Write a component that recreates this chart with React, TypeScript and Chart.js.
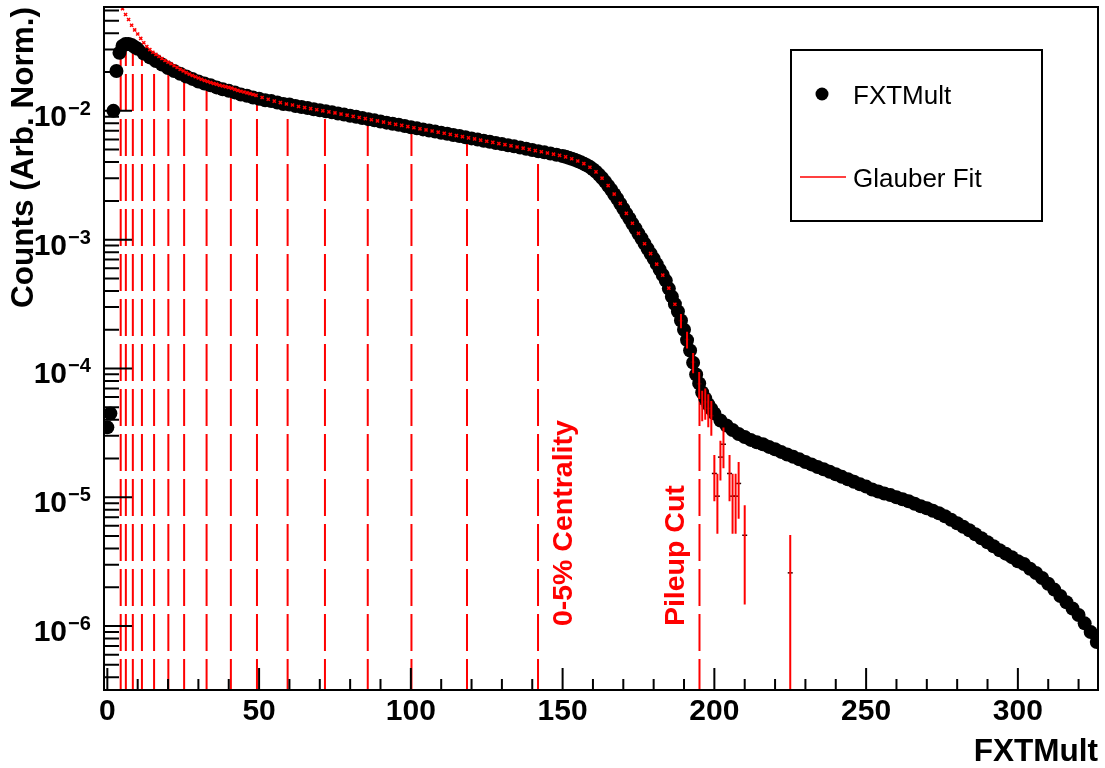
import React, { useEffect, useRef } from "react";
import { Chart, registerables } from "chart.js";

Chart.register(...registerables);

const FONT = '"Liberation Sans", Arial, Helvetica, sans-serif';
const RED = "#ff0000";

// FXTMult histogram (black points)
const multX = [0,1,2,3,4,5,6,7,8,9,10,12,14,16,18,20,22,24,26,28,30,32,34,36,38,40,42,44,46,48,50,52,54,56,58,60,62,64,66,68,70,72,74,76,78,80,82,84,86,88,90,92,94,96,98,100,102,104,106,108,110,112,114,116,118,120,122,124,126,128,130,132,134,136,138,140,142,144,146,148,
  150,151,152,153,154,155,156,157,158,159,160,161,162,163,164,165,166,167,168,169,170,171,172,173,174,175,176,177,178,179,180,181,182,183,184,185,186,187,188,189,190,191,192,193,194,195,196,197,198,199,200,
  202,204,206,208,210,212,214,216,218,220,222,224,226,228,230,232,234,236,238,240,242,244,246,248,250,252,254,256,258,260,262,264,266,268,270,272,274,276,278,280,282,284,286,288,290,292,294,296,298,300,302,304,306,308,310,312,314,316,318,320,322,324,326];
const multY = [3.49e-5,4.48e-5,1.00e-2,2.04e-2,2.82e-2,3.19e-2,3.30e-2,3.30e-2,3.25e-2,3.13e-2,3.03e-2,
  2.79e-2,2.60e-2,2.44e-2,2.29e-2,2.15e-2,2.04e-2,1.94e-2,1.85e-2,1.77e-2,1.69e-2,
  1.63e-2,1.58e-2,1.52e-2,1.47e-2,1.43e-2,1.39e-2,1.34e-2,1.31e-2,1.27e-2,1.24e-2,
  1.21e-2,1.19e-2,1.16e-2,1.13e-2,1.12e-2,1.09e-2,1.07e-2,1.05e-2,1.03e-2,1.01e-2,
  9.91e-3,9.74e-3,9.53e-3,9.35e-3,9.15e-3,8.98e-3,8.79e-3,8.62e-3,8.44e-3,8.26e-3,
  8.10e-3,7.93e-3,7.79e-3,7.63e-3,7.46e-3,7.31e-3,7.18e-3,7.03e-3,6.90e-3,6.75e-3,
  6.64e-3,6.49e-3,6.37e-3,6.24e-3,6.11e-3,5.98e-3,5.86e-3,5.75e-3,5.62e-3,5.52e-3,
  5.41e-3,5.30e-3,5.19e-3,5.08e-3,4.97e-3,4.86e-3,4.76e-3,4.66e-3,4.56e-3,
  4.46e-3,4.40e-3,4.32e-3,4.25e-3,4.17e-3,4.08e-3,3.99e-3,3.88e-3,3.78e-3,3.66e-3,
  3.52e-3,3.37e-3,3.19e-3,3.01e-3,2.82e-3,2.62e-3,2.44e-3,2.25e-3,2.08e-3,1.90e-3,
  1.74e-3,1.59e-3,1.46e-3,1.33e-3,1.22e-3,1.11e-3,1.02e-3,9.31e-4,8.51e-4,7.78e-4,
  7.13e-4,6.46e-4,5.85e-4,5.31e-4,4.81e-4,4.17e-4,3.61e-4,3.16e-4,2.77e-4,2.36e-4,
  2.00e-4,1.66e-4,1.38e-4,1.11e-4,8.98e-5,7.66e-5,6.52e-5,5.85e-5,5.26e-5,4.85e-5,4.48e-5,
  3.95e-5,3.61e-5,3.33e-5,3.10e-5,2.94e-5,
  2.79e-5,2.67e-5,2.58e-5,2.46e-5,2.36e-5,2.25e-5,2.15e-5,2.06e-5,1.97e-5,1.88e-5,
  1.80e-5,1.72e-5,1.65e-5,1.58e-5,1.51e-5,1.44e-5,1.38e-5,1.32e-5,1.26e-5,1.21e-5,
  1.15e-5,1.11e-5,1.07e-5,1.04e-5,1.00e-5,9.64e-6,9.31e-6,8.91e-6,8.51e-6,8.22e-6,
  7.85e-6,7.52e-6,7.13e-6,6.70e-6,6.28e-6,5.90e-6,5.55e-6,5.16e-6,4.81e-6,4.48e-6,
  4.17e-6,3.88e-6,3.65e-6,3.43e-6,3.19e-6,3.03e-6,2.79e-6,2.58e-6,2.36e-6,2.13e-6,
  1.92e-6,1.71e-6,1.53e-6,1.37e-6,1.22e-6,1.05e-6,8.98e-7,7.52e-7];

// Glauber fit (red)
const fitX = [5,6,7,8,9,10,11,12,13,14,15,16,17,18,19,20,21,22,23,24,25,26,27,28,29,30,31,32,33,34,35,36,37,38,39,40,41,42,43,44,45,46,47,48,49,
  51,53,55,57,59,61,63,65,67,69,71,73,75,77,79,81,83,85,87,89,91,93,95,97,99,101,103,105,107,109,111,113,115,117,119,121,123,125,127,129,131,133,135,137,139,141,143,145,147,149,151,153,155,157,159,161,163,165,167,169,171,173,175,177,179,181,183,185,187];
const fitY = [0.0620,0.0560,0.0512,0.0462,0.0425,0.0395,0.0365,0.0338,0.0316,0.0299,0.0285,0.0274,0.0264,0.0255,0.0246,0.0239,0.0232,0.0224,0.0217,0.0210,
  0.0204,0.0198,0.0193,0.0188,0.0184,0.0180,0.0176,0.0172,0.0169,0.0166,0.0163,0.0161,0.0158,0.0156,0.0154,0.0152,0.0150,0.0147,0.0144,0.0142,0.0140,0.0138,0.0136,0.0134,0.0132,
  0.0127,0.0123,0.0119,0.0116,0.0113,0.0111,0.0108,0.0106,0.0104,0.0102,0.0100,0.00982,0.00963,0.00944,0.00925,0.00906,0.00888,0.00870,0.00853,0.00835,
  0.00818,0.00801,0.00786,0.00771,0.00755,0.00739,0.00725,0.00711,0.00697,0.00683,0.00670,0.00656,0.00643,0.00630,0.00617,0.00605,0.00592,0.00581,0.00569,0.00557,
  0.00546,0.00535,0.00524,0.00513,0.00502,0.00491,0.00481,0.00471,0.00461,0.00451,0.00439,0.00425,0.00408,0.00389,0.00365,0.00336,0.00300,0.00263,0.00226,0.00191,
  0.00160,0.00134,0.00112,0.000930,0.000780,0.000645,0.000530,0.000420,0.000315];
const fitTailX = [189,191,193,195,196,197,198,199,200,201,202,203,205,206,207,208,210,225];
const fitTailY = [2.35e-4,1.68e-4,1.12e-4,7.6e-5,5.3e-5,5.5e-5,4.9e-5,4.3e-5,1.53e-5,1.02e-5,2.05e-5,2.58e-5,1.53e-5,1.02e-5,1.02e-5,1.28e-5,5.07e-6,2.59e-6];
const fitTailErr = [3.0e-5,2.5e-5,2.0e-5,1.8e-5,1.4e-5,1.5e-5,1.4e-5,1.3e-5,6e-6,5e-6,7e-6,9e-6,6e-6,5e-6,5e-6,6e-6,3.6e-6,2.5e-6];

// centrality cut lines
const cutX = [4.4,6.1,8.4,11.4,15.4,20.1,25.3,32.7,40.7,49.3,59.4,71.7,85.8,100.2,118.5,141.9,195.1];
const cutTop = [0.029,0.033,0.032,0.028,0.0245,0.0214,0.0188,0.0162,0.0142,0.0125,0.0112,0.0099,0.0086,0.0075,0.0062,0.0049,7.0e-5];
const cutLabels = ["0-5% Centrality", "Pileup Cut"];
const cutLabelX = [153, 190];
const cutLabelY = [1e-6, 1e-6];

const xTicks = [0, 50, 100, 150, 200, 250, 300];
const yDecades = [-6, -5, -4, -3, -2];
const legendLabels = ["FXTMult", "Glauber Fit"];

const X_MIN = -1.1, X_MAX = 326.4, Y_MIN = 3.19e-7, Y_MAX = 0.064;

const rootPlugin = {
  id: "rootStyle",
  afterDraw(chart: any) {
    const { ctx, chartArea: a } = chart;
    const xs = chart.scales.x, ys = chart.scales.y;
    ctx.save();
    ctx.strokeStyle = "#000";
    ctx.lineWidth = 2;
    ctx.beginPath();
    for (let v = 0; v <= X_MAX; v += 10) {
      const px = xs.getPixelForValue(v);
      const len = v % 50 === 0 ? 22 : 11;
      ctx.moveTo(px, a.bottom);
      ctx.lineTo(px, a.bottom - len);
    }
    for (let d = -7; d <= -1; d++) {
      for (let m = 1; m <= 9; m++) {
        const v = m * Math.pow(10, d);
        if (v < Y_MIN || v > Y_MAX) continue;
        const py = ys.getPixelForValue(v);
        const len = m === 1 ? 28 : 15;
        ctx.moveTo(a.left, py);
        ctx.lineTo(a.left + len, py);
      }
    }
    ctx.stroke();
    ctx.strokeRect(a.left, a.top, a.right - a.left, a.bottom - a.top);

    // y tick labels 10^n
    ctx.fillStyle = "#000";
    ctx.textBaseline = "alphabetic";
    yDecades.forEach((d) => {
      const py = ys.getPixelForValue(Math.pow(10, d));
      ctx.font = `bold 30px ${FONT}`;
      ctx.textAlign = "right";
      ctx.fillText("10", a.left - 37, py + 15);
      ctx.font = `bold 20px ${FONT}`;
      ctx.textAlign = "left";
      ctx.fillText("\u2212" + Math.abs(d), a.left - 36, py + 4);
    });

    // rotated cut labels
    ctx.fillStyle = RED;
    ctx.font = `bold 28.5px ${FONT}`;
    cutLabels.forEach((t, i) => {
      const px = xs.getPixelForValue(cutLabelX[i]);
      const py = ys.getPixelForValue(cutLabelY[i]);
      ctx.save();
      ctx.translate(px, py);
      ctx.rotate(-Math.PI / 2);
      ctx.textAlign = "left";
      ctx.textBaseline = "alphabetic";
      ctx.fillText(t, 0, 0);
      ctx.restore();
    });

    // legend
    const L = { left: 791, top: 50, right: 1042, bottom: 221 };
    ctx.fillStyle = "#fff";
    ctx.fillRect(L.left, L.top, L.right - L.left, L.bottom - L.top);
    ctx.strokeStyle = "#000";
    ctx.lineWidth = 2;
    ctx.strokeRect(L.left, L.top, L.right - L.left, L.bottom - L.top);
    ctx.fillStyle = "#000";
    ctx.beginPath();
    ctx.arc(822, 94, 6.5, 0, Math.PI * 2);
    ctx.fill();
    ctx.strokeStyle = RED;
    ctx.lineWidth = 1.5;
    ctx.beginPath();
    ctx.moveTo(800, 177);
    ctx.lineTo(846, 177);
    ctx.stroke();
    ctx.fillStyle = "#000";
    ctx.font = `26px ${FONT}`;
    ctx.textAlign = "left";
    ctx.textBaseline = "alphabetic";
    ctx.fillText(legendLabels[0], 853, 103.5);
    ctx.fillText(legendLabels[1], 853, 186.5);
    ctx.restore();
  },
};

export default function App() {
  const ref = useRef<HTMLCanvasElement>(null);
  useEffect(() => {
    const canvas = ref.current;
    if (!canvas) return;
    const multData = multX.map((x, i) => ({ x, y: multY[i] }));
    const fitData = fitX.map((x, i) => ({ x, y: fitY[i] }));
    const tailData = fitTailX.map((x, i) => ({ x, y: fitTailY[i] }));
    const errData: any[] = [];
    fitTailX.forEach((x, i) => {
      errData.push({ x, y: Math.max(fitTailY[i] - fitTailErr[i], Y_MIN / 10) });
      errData.push({ x, y: fitTailY[i] + fitTailErr[i] });
      errData.push({ x, y: null });
    });
    const cutData: any[] = [];
    cutX.forEach((x, i) => {
      cutData.push({ x, y: Y_MIN }, { x, y: cutTop[i] }, { x, y: null });
    });
    const titleFont = { family: FONT, size: 31.5, weight: "bold" as const, lineHeight: 1 };
    const chart = new Chart(canvas, {
      type: "scatter",
      data: {
        datasets: [
          { type: "line", label: "fitErr", data: errData, borderColor: RED, borderWidth: 2, pointRadius: 0, spanGaps: false, tension: 0, order: 0, clip: 0 } as any,
          { label: "fitTail", data: tailData, pointStyle: "line", pointRadius: 2.5, pointBorderColor: "#300000", pointBackgroundColor: "#300000", pointBorderWidth: 1.5, order: 0, clip: 0 } as any,
          { label: "Glauber Fit", data: fitData, pointStyle: "crossRot", pointRadius: 2.2, pointBorderColor: RED, pointBackgroundColor: RED, pointBorderWidth: 1.5, order: 1, clip: 0 } as any,
          { label: "FXTMult", data: multData, pointStyle: "circle", pointRadius: 7, pointBackgroundColor: "#000", pointBorderColor: "#000", pointBorderWidth: 0, order: 2, clip: 0 } as any,
          { type: "line", label: "cuts", data: cutData, borderColor: RED, borderWidth: 2, borderDash: [37, 8], borderDashOffset: 6, pointRadius: 0, spanGaps: false, tension: 0, order: 3, clip: 0 } as any,
        ],
      },
      options: {
        responsive: false,
        animation: false,
        devicePixelRatio: 1,
        events: [],
        layout: { padding: { top: 6, right: 1, bottom: 0, left: 0 } },
        plugins: { legend: { display: false }, tooltip: { enabled: false } },
        scales: {
          x: {
            type: "linear",
            min: X_MIN,
            max: X_MAX,
            offset: false,
            grid: { display: false, drawTicks: false },
            border: { display: false },
            afterBuildTicks: (s: any) => { s.ticks = xTicks.map((v) => ({ value: v })); },
            ticks: { autoSkip: false, maxRotation: 0, minRotation: 0, padding: 4, color: "#000", font: { family: FONT, size: 30, weight: "bold" } },
            title: { display: true, text: "FXTMult", align: "end", color: "#000", font: titleFont, padding: { top: 0, bottom: 0 } },
            afterFit: (s: any) => { s.height = 78; },
          },
          y: {
            type: "logarithmic",
            min: Y_MIN,
            max: Y_MAX,
            grid: { display: false, drawTicks: false },
            border: { display: false },
            ticks: { display: false },
            title: { display: true, text: "Counts (Arb. Norm.)", align: "end", color: "#000", font: titleFont, padding: { top: 9, bottom: 0 } },
            afterFit: (s: any) => { s.width = 104; },
          },
        },
      } as any,
      plugins: [rootPlugin],
    });
    return () => chart.destroy();
  }, []);
  return (
    <canvas
      ref={ref}
      width={1105}
      height={768}
      style={{ position: "fixed", left: 0, top: 0, width: 1105, height: 768, display: "block", background: "#fff" }}
    />
  );
}
